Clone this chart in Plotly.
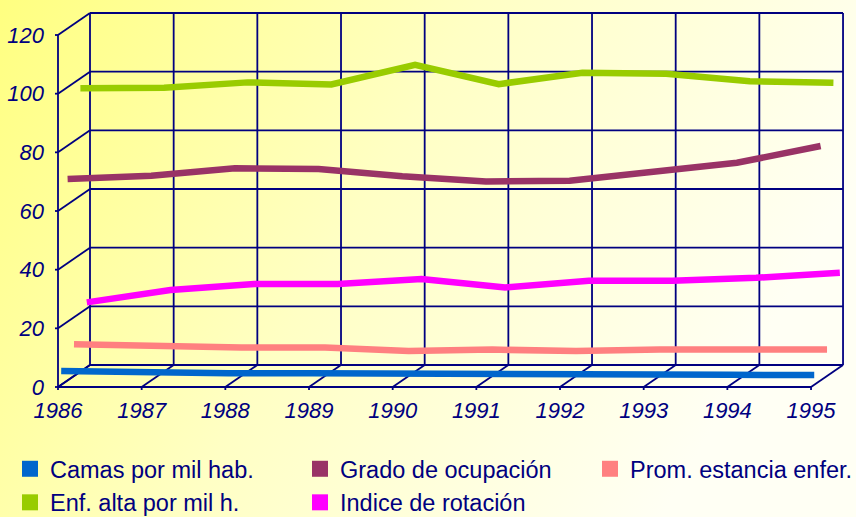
import base64
import plotly.graph_objects as go

# ---------------- data ----------------
years = [1986, 1987, 1988, 1989, 1990, 1991, 1992, 1993, 1994, 1995]
camas = [4.7, 4.1, 3.9, 3.9, 3.9, 3.9, 3.9, 3.8, 3.4, 3.3]
grado = [68.7, 69.8, 72.3, 72.1, 69.6, 67.8, 68.1, 71.2, 74.2, 79.9]
prom = [10.8, 10.0, 9.7, 9.7, 8.5, 9.0, 8.5, 9.0, 9.0, 9.0]
enf = [96.6, 96.8, 98.6, 97.9, 104.6, 98.0, 101.9, 101.5, 99.0, 98.5]
indice = [22.1, 26.3, 28.4, 28.4, 30.1, 27.2, 29.5, 29.5, 30.5, 32.2]
y_ticks = [0, 20, 40, 60, 80, 100, 120]

names = ["Camas por mil hab.", "Grado de ocupación", "Prom. estancia enfer.",
         "Enf. alta por mil h.", "Indice de rotación"]
series = [camas, grado, prom, enf, indice]
colors = ["#0066CC", "#993366", "#FF8080", "#99CC00", "#FF00FF"]
depth = [0.1, 0.3, 0.5, 0.7, 0.9]          # fraction of the 3-D depth
legend_ids = ["legend", "legend2", "legend3", "legend", "legend2"]

# ---------------- layout geometry (pixels) ----------------
W, H = 856, 517
FX0, STEP = 58.0, 83.67      # px of first year on front face, px per year
FY0, SY = 387.0, 2.9333      # px of value 0 on front face, px per unit
PL, PR, PT, PB = 50, 850, 5, 395
DX = 32.0 / STEP             # depth offset in years
DY = 22.0 / SY               # depth offset in value units

x0 = years[0] + (PL - FX0) / STEP
x1 = years[0] + (PR - FX0) / STEP
y0 = (FY0 - PB) / SY
y1 = (FY0 - PT) / SY

NAVY = "#000080"
FONT = "Arial, Liberation Sans, sans-serif"

fig = go.Figure()

# series lines, drawn back to front, each on a depth-shifted axis pair
for i in reversed(range(len(series))):
    n = i + 2
    fig.add_trace(go.Scatter(
        x=years, y=series[i], mode="lines", name=names[i], showlegend=False,
        line=dict(color=colors[i], width=6.5),
        xaxis=f"x{n}", yaxis=f"y{n}", hoverinfo="x+y+name"))
    d = depth[i]
    fig.layout[f"xaxis{n}"] = dict(overlaying="x", anchor=f"y{n}", domain=[0, 1],
                                   range=[x0 - DX * d, x1 - DX * d],
                                   visible=False, fixedrange=True)
    fig.layout[f"yaxis{n}"] = dict(overlaying="y", anchor=f"x{n}", domain=[0, 1],
                                   range=[y0 - DY * d, y1 - DY * d],
                                   visible=False, fixedrange=True)

# legend entries (square swatches)
for i in range(len(series)):
    fig.add_trace(go.Scatter(
        x=[None], y=[None], mode="markers", name=names[i], legend=legend_ids[i],
        marker=dict(symbol="square", size=18, color=colors[i])))

# ---------------- 3-D style frame / grid ----------------
shapes = []
ln = dict(color=NAVY, width=1.8)
ya, yb = years[0], years[-1]
top = y_ticks[-1]
for v in y_ticks:
    shapes.append(dict(type="line", x0=ya + DX, y0=v + DY, x1=yb + DX, y1=v + DY, line=ln))
    shapes.append(dict(type="line", x0=ya, y0=v, x1=ya + DX, y1=v + DY, line=ln))
    shapes.append(dict(type="line", x0=ya - 3 / STEP, y0=v, x1=ya, y1=v, line=ln))
for yr in years:
    shapes.append(dict(type="line", x0=yr + DX, y0=DY, x1=yr + DX, y1=top + DY, line=ln))
    shapes.append(dict(type="line", x0=yr, y0=0, x1=yr + DX, y1=DY, line=ln))
    shapes.append(dict(type="line", x0=yr, y0=0, x1=yr, y1=-3 / SY, line=ln))
shapes.append(dict(type="line", x0=ya, y0=0, x1=ya, y1=top, line=ln))
shapes.append(dict(type="line", x0=ya, y0=0, x1=yb, y1=0, line=ln))
for s in shapes:
    s.update(xref="x", yref="y", layer="below")

# background gradient
pw, ph = PR - PL, PB - PT
svg = (f'<svg xmlns="http://www.w3.org/2000/svg" width="{W}" height="{H}" '
       f'preserveAspectRatio="none" viewBox="0 0 {W} {H}">'
       '<defs><linearGradient id="g" x1="0" y1="0" x2="1" y2="0.35">'
       '<stop offset="0" stop-color="#FFFF80"/>'
       '<stop offset="0.5" stop-color="#FFFFC4"/>'
       '<stop offset="1" stop-color="#FFFFF4"/>'
       '</linearGradient></defs>'
       f'<rect width="{W}" height="{H}" fill="url(#g)"/></svg>')
src = "data:image/svg+xml;base64," + base64.b64encode(svg.encode()).decode()

tickfont = dict(family=FONT, size=22, color=NAVY, style="italic")
legfont = dict(family=FONT, size=23.5, color=NAVY)
leg_common = dict(font=legfont, bgcolor="rgba(0,0,0,0)", borderwidth=0,
                  xref="container", yref="container", xanchor="left", yanchor="top",
                  y=1 - 447 / H, orientation="v", itemclick=False, itemdoubleclick=False)

fig.update_layout(
    width=W, height=H,
    margin=dict(l=PL, r=W - PR, t=PT, b=H - PB, pad=0, autoexpand=False),
    paper_bgcolor="#FFFFF0", plot_bgcolor="rgba(0,0,0,0)",
    shapes=shapes,
    images=[dict(source=src, xref="paper", yref="paper", x=-PL / pw, y=1 + PT / ph,
                 sizex=W / pw, sizey=H / ph, sizing="stretch",
                 xanchor="left", yanchor="top", layer="below")],
    xaxis=dict(range=[x0, x1], tickvals=years, ticktext=[str(y) for y in years],
               showgrid=False, zeroline=False, showline=False, ticks="",
               tickfont=tickfont, fixedrange=True, automargin=False),
    yaxis=dict(range=[y0, y1], tickvals=y_ticks, ticktext=[str(v) for v in y_ticks],
               showgrid=False, zeroline=False, showline=False, ticks="",
               ticklabelstandoff=5,
               tickfont=tickfont, fixedrange=True, automargin=False),
    legend=dict(x=10 / W, **leg_common),
    legend2=dict(x=300 / W, **leg_common),
    legend3=dict(x=590 / W, **leg_common),
    showlegend=True,
)

fig.write_html("out.html", config={"displayModeBar": False},
               post_script="document.body.style.margin='0';document.body.style.overflow='hidden';")
